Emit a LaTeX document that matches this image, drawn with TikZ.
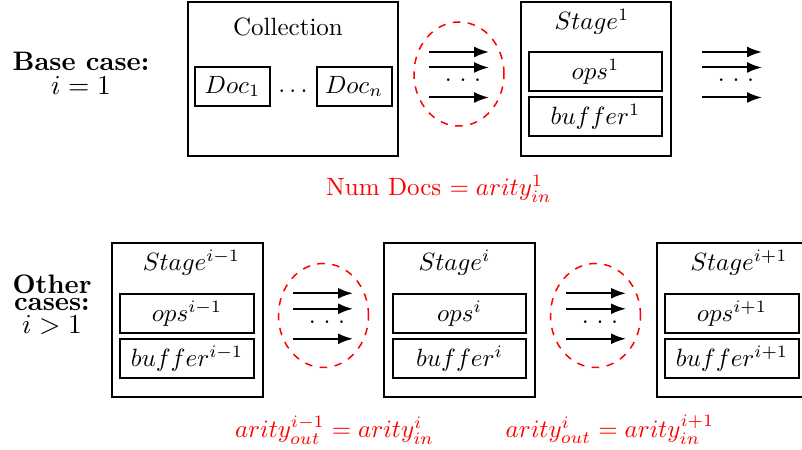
\documentclass[tikz,border=0pt]{standalone}
\usetikzlibrary{positioning,arrows.meta,shapes.geometric}

\newcommand{\spreaddots}{.\kern3.1pt.\kern3.1pt.}

\begin{document}
\begin{tikzpicture}[x=0.4pt, y=-0.4pt, every node/.style={inner sep=0,outer sep=0}, node distance=2.4pt,
		stagebox/.style={draw,thick,minimum width=60pt,minimum height=61.6pt},
		partbox/.style={draw,thick,minimum width=53.4pt,minimum height=15.6pt},
		docbox/.style={draw,thick,minimum width=30pt,minimum height=15.6pt},
		flow/.style={ellipse,draw=red,dashed,semithick,minimum width=36pt,minimum height=41.6pt},
		link/.style={thick,-{Latex[length=6pt,width=4.4pt]}},
		casetext/.style={font=\fontsize{10.7}{12}\selectfont\bfseries, align=center},
		arity/.style={text=red}]
		
		\useasboundingbox (0,0) rectangle (802,450);
		
		%Nodes, base case
		\node[casetext] (base) at (81,73) {Base case:\\[-2.4pt]$i=1$};
		\node[stagebox, minimum width=84pt] (coll) at (293,79) {};
		\node (colltitle) at (288,27) {Collection};
		\node[docbox] (doc1) at (232.5,86.5) {$Doc_1$};
		\node (docdots) at (293,91) {$\ldots$};
		\node[docbox] (docn) at (354,86.5) {$Doc_n$};
		\node[flow] (e1) at (459,74) {};
		\node[stagebox] (st1) at (596,79) {};
		\node (st1title) at (592,22) {$Stage^1$};
		\node[partbox] (ops1) at (595.5,71.5) {$ops^1$};
		\node[partbox] (buf1) [below=of ops1] {$buffer^1$};
		\node[arity] (numdocs) at (439,189) {Num Docs $= arity^1_{in}$};
		
		%Nodes, other cases
		\node[casetext] (other) at (52,305) {Other\\[-5.2pt]cases:\\[-2.8pt]$i>1$};
		\node[stagebox] (stA) at (187.5,320.5) {};
		\node (stAtitle) at (191.5,263) {$Stage^{i-1}$};
		\node[partbox] (opsA) at (187,313.5) {$ops^{i-1}$};
		\node[partbox] (bufA) [below=of opsA] {$buffer^{i-1}$};
		\node[flow] (e2) at (323.5,315.5) {};
		\node[stagebox] (stB) at (459.5,320.5) {};
		\node (stBtitle) at (454.5,263) {$Stage^i$};
		\node[partbox] (opsB) at (459.5,313.5) {$ops^i$};
		\node[partbox] (bufB) [below=of opsB] {$buffer^i$};
		\node[flow] (e3) at (595.5,315.5) {};
		\node[stagebox] (stC) at (731.5,320.5) {};
		\node (stCtitle) at (739,263) {$Stage^{i+1}$};
		\node[partbox] (opsC) at (732,313.5) {$ops^{i+1}$};
		\node[partbox] (bufC) [below=of opsC] {$buffer^{i+1}$};
		\node[arity] (eqA) at (334.5,430) {$arity^{i-1}_{out} = arity^i_{in}$};
		\node[arity] (eqB) at (610,430) {$arity^i_{out} = arity^{i+1}_{in}$};
		
		%Lines
		\foreach \n/\x/\y in {f1/429/52, f2/702/52, f3/293/293.3, f4/566/293.3}{
			\coordinate (\n-s1) at (\x,\y);
			\coordinate (\n-e1) at (\x+60,\y);
			\coordinate (\n-s2) at (\x,\y+15.5);
			\coordinate (\n-e2) at (\x+60,\y+15.5);
			\coordinate (\n-s3) at (\x,\y+45.5);
			\coordinate (\n-e3) at (\x+60,\y+45.5);
			\node (\n-dots) at (\x+34,\y+28.5) {\spreaddots};
			\draw[link] (\n-s1) -- (\n-e1);
			\draw[link] (\n-s2) -- (\n-e2);
			\draw[link] (\n-s3) -- (\n-e3);
		}
\end{tikzpicture}
\end{document}
